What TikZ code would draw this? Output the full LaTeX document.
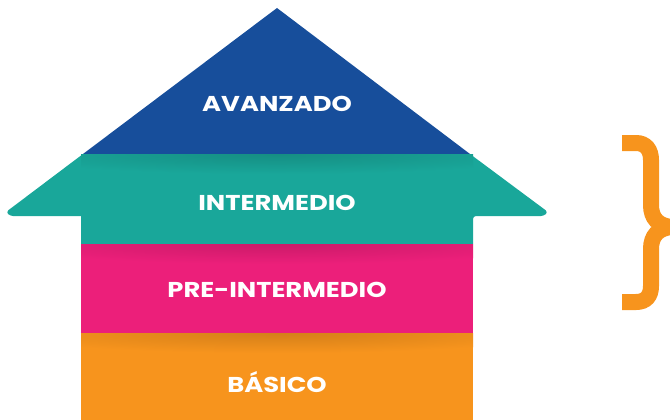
\documentclass[tikz,border=0pt]{standalone}
\usepackage{fontspec}
\setmainfont{Poppins}[FakeStretch=1.2]
\definecolor{cblue}{HTML}{174E9B}
\definecolor{cteal}{HTML}{19A79A}
\definecolor{cpink}{HTML}{EC1F7A}
\definecolor{corange}{HTML}{F7941D}
\tikzset{
  lbl/.style={text=white, font=\fontsize{21.5}{24}\selectfont\bfseries, inner sep=0pt, anchor=center},
}
\begin{document}
\begin{tikzpicture}[x=1pt,y=-1pt]
\useasboundingbox (0,0) rectangle (670,420);
% bands
\fill[cblue] (277,8) -- (470,154) -- (83,154) -- cycle;
\fill[cteal, rounded corners=3pt] (83,154) -- (470,154) -- (548,212) -- (544,216) -- (473,216) [sharp corners] -- (473,244) -- (81,244) -- (81,216) [rounded corners=3pt] -- (10,216) -- (6,212) -- cycle;
\fill[cpink] (81,244) rectangle (473,333);
\fill[corange] (81,333) rectangle (473,420);
% soft shadows under each boundary
\begin{scope}
\clip (81,154) rectangle (473,244);
\shade[inner color=cteal!85!black, outer color=cteal] (277,154) ellipse [x radius=280, y radius=20];
\end{scope}
\begin{scope}
\clip (81,244) rectangle (473,333);
\shade[inner color=cpink!86!black, outer color=cpink] (277,244) ellipse [x radius=280, y radius=20];
\end{scope}
\begin{scope}
\clip (81,333) rectangle (473,420);
\shade[inner color=corange!86!black, outer color=corange] (277,333) ellipse [x radius=280, y radius=20];
\end{scope}
% labels
\node[lbl] (avanzado) at (277,104) {AVANZADO};
\node[lbl] (intermedio) at (277,203) {INTERMEDIO};
\node[lbl] (preint) at (277,290) {PRE-INTERMEDIO};
\node[lbl] (basico) at (277,382) {BÁSICO};
% brace
\draw[corange, line width=16pt] (622,143) -- (636,143) .. controls (646,143) and (651,150) .. (651,160) -- (651,205) .. controls (651,218) and (658,226) .. (672,227) .. controls (658,228) and (651,236) .. (651,249) -- (651,286) .. controls (651,296) and (646,302) .. (636,302) -- (622,302);
\end{tikzpicture}
\end{document}
